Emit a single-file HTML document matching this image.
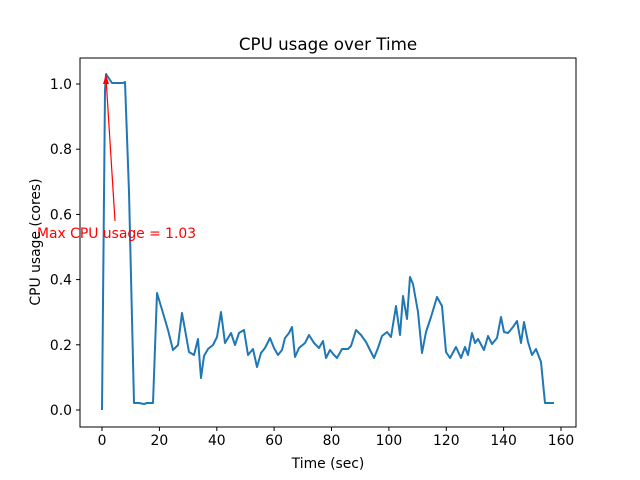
<!DOCTYPE html>
<html><head><style>body{margin:0;background:#fff}svg{display:block;font-family:"DejaVu Sans","Liberation Sans",sans-serif}</style></head>
<body>
<svg width="640" height="480" viewBox="0 0 640 480">
<rect width="640" height="480" fill="#fff"/>
<text x="328" y="50" font-size="16.7" text-anchor="middle">CPU usage over Time</text>
<polyline fill="none" stroke="#1f77b4" stroke-width="2" stroke-linejoin="round" points="102,410 105,90 106,74 108,77 112,83 123,83 125,82 129,192 134,403 139,403 144,404 147,403 153,403 157,293 163,313 168,330 173,350 178,345 182,313 189,352 194,355 198,339 201,378 204,356 208,349 213,345 217,337 221,312 225,343 231,333 235,345 239,333 244,330 248,355 253,349 257,367 261,353 265,348 270,338 274,348 278,355 282,350 285,338 289,333 292,327 295,357 299,348 305,343 309,335 314,343 319,348 323,341 326,358 330,350 334,355 337,358 342,349 348,349 351,346 356,330 361,335 366,342 374,358 378,348 382,336 387,332 391,337 396,306 400,335 403,296 407,319 410,277 413,284 418,312 422,353 426,332 431,317 437,297 442,306 446,352 450,358 456,347 461,358 465,347 468,355 472,333 475,343 478,339 484,350 488,336 492,344 497,338 501,317 504,332 508,333 513,327 517,321 521,343 524,322 528,342 532,355 536,349 541,362 545,403 554,403"/>
<line x1="115" y1="221" x2="106" y2="78" stroke="red" stroke-width="1.2"/>
<polygon points="106,74 103,84 109,84" fill="red"/>
<text x="37" y="238" font-size="13.9" fill="red">Max CPU usage = 1.03</text>
<rect x="80" y="58" width="496" height="369" fill="none" stroke="#000" stroke-width="1"/>
<g stroke="#000" stroke-width="1">
<line x1="102" y1="427" x2="102" y2="431"/><line x1="159.4" y1="427" x2="159.4" y2="431"/><line x1="216.8" y1="427" x2="216.8" y2="431"/><line x1="274.1" y1="427" x2="274.1" y2="431"/><line x1="331.5" y1="427" x2="331.5" y2="431"/><line x1="388.9" y1="427" x2="388.9" y2="431"/><line x1="446.3" y1="427" x2="446.3" y2="431"/><line x1="503.6" y1="427" x2="503.6" y2="431"/><line x1="561" y1="427" x2="561" y2="431"/>
<line x1="76" y1="410" x2="80" y2="410"/><line x1="76" y1="344.8" x2="80" y2="344.8"/><line x1="76" y1="279.6" x2="80" y2="279.6"/><line x1="76" y1="214.4" x2="80" y2="214.4"/><line x1="76" y1="149.2" x2="80" y2="149.2"/><line x1="76" y1="84" x2="80" y2="84"/>
</g>
<g font-size="13.9" text-anchor="middle">
<text x="102" y="445">0</text><text x="159.4" y="445">20</text><text x="216.8" y="445">40</text><text x="274.1" y="445">60</text><text x="331.5" y="445">80</text><text x="388.9" y="445">100</text><text x="446.3" y="445">120</text><text x="503.6" y="445">140</text><text x="561" y="445">160</text>
</g>
<g font-size="13.9" text-anchor="end">
<text x="72" y="415">0.0</text><text x="72" y="349.8">0.2</text><text x="72" y="284.6">0.4</text><text x="72" y="219.4">0.6</text><text x="72" y="154.2">0.8</text><text x="72" y="89">1.0</text>
</g>
<text x="328" y="468" font-size="13.9" text-anchor="middle">Time (sec)</text>
<text x="0" y="0" font-size="13.9" text-anchor="middle" transform="translate(40,242) rotate(-90)">CPU usage (cores)</text>
</svg>
</body></html>
